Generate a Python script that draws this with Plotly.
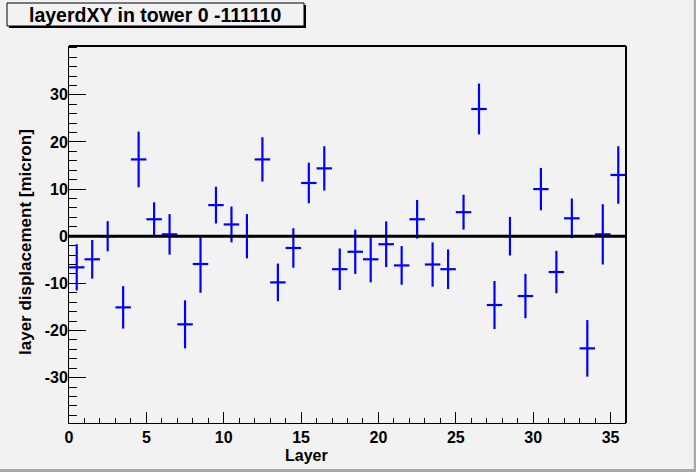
import plotly.graph_objects as go

# ---- data ----
layer = [i + 0.5 for i in range(36)]
displacement = [-6.6, -4.9, 0.0, -15.1, 16.3, 3.6, 0.4, -18.7, -5.9, 6.6,
                2.5, 0.0, 16.3, -9.8, -2.5, 11.3, 14.4, -7.0, -3.3, -4.9,
                -1.7, -6.2, 3.6, -6.0, -7.0, 5.1, 27.0, -14.6, 0.0, -12.7,
                10.0, -7.6, 3.8, -23.8, 0.4, 13.0]
disp_err = [4.9, 4.1, 3.2, 4.5, 5.9, 3.6, 4.3, 5.1, 6.1, 3.9,
            3.8, 4.7, 4.7, 4.0, 4.2, 4.3, 4.7, 4.4, 4.7, 4.9,
            4.85, 4.1, 4.1, 4.7, 4.2, 3.7, 5.4, 5.1, 4.1, 4.7,
            4.5, 4.5, 4.2, 6.0, 6.4, 6.1]
layer_halfwidth = 0.5
x_range = [0, 36]
y_range = [-39.64, 40.37]
y_major = [-30, -20, -10, 0, 10, 20, 30]
y_major_text = ["-30", "-20", "-10", "0", "10", "20", "30"]
y_minor = [-38, -36, -34, -32, -28, -26, -24, -22, -18, -16, -14, -12,
           -8, -6, -4, -2, 2, 4, 6, 8, 12, 14, 16, 18, 22, 24, 26, 28,
           32, 34, 36, 38, 40]
title_text = "layerdXY in tower 0 -111110"
x_title = "Layer"
y_title = "layer displacement [micron]"

W, H = 696, 472
ML, MR, MT, MB = 69, 70, 46, 49
PW, PH = W - ML - MR, H - MT - MB

def px(x):
    return (x - ML) / PW

def py(y):
    return (H - MB - y) / PH

BG = "#f2f2f2"
FONT = "Liberation Sans, Arial, sans-serif"

fig = go.Figure()
fig.add_trace(go.Scatter(
    x=layer, y=displacement, mode="markers",
    marker=dict(size=1, color="#0000ff", opacity=0),
    error_y=dict(type="data", array=disp_err, visible=True,
                 color="#0000ff", thickness=2.2, width=0),
    error_x=dict(type="constant", value=layer_halfwidth, visible=True,
                 color="#0000ff", thickness=2.2, width=0),
    showlegend=False, hoverinfo="x+y",
))

axis_common = dict(
    showgrid=False, zeroline=False, showline=True, linecolor="black",
    linewidth=1, ticks="inside", tickcolor="black", tickwidth=1,
    tickfont=dict(family=FONT, size=16, color="black", weight="bold"),
)

fig.update_xaxes(range=x_range, dtick=5, tick0=0, ticklen=11,
                 minor=dict(dtick=1, tick0=0, ticks="inside", ticklen=5,
                            tickcolor="black", tickwidth=1),
                 **axis_common)
fig.update_yaxes(range=y_range, tickmode="array", tickvals=y_major,
                 ticktext=y_major_text, ticklen=17,
                 minor=dict(tickmode="array", tickvals=y_minor,
                            ticks="inside", ticklen=8,
                            tickcolor="black", tickwidth=1),
                 ticklabelstandoff=-3,
                 **axis_common)

shapes = [
    # zero line
    dict(type="line", xref="x", yref="y", x0=x_range[0], x1=x_range[1],
         y0=0, y1=0, line=dict(color="black", width=3)),
    # frame top and right (thicker)
    dict(type="line", xref="paper", yref="paper", x0=0, x1=1, y0=1, y1=1,
         line=dict(color="black", width=2)),
    dict(type="line", xref="paper", yref="paper", x0=1, x1=1, y0=0, y1=1,
         line=dict(color="black", width=2)),
    # canvas bevel
    dict(type="line", xref="paper", yref="paper", x0=px(695), x1=px(695),
         y0=py(0), y1=py(472), line=dict(color="#a8a8a8", width=2.5)),
    dict(type="line", xref="paper", yref="paper", x0=px(0), x1=px(696),
         y0=py(470.5), y1=py(470.5), line=dict(color="#a8a8a8", width=3)),
    # title box shadow
    dict(type="rect", xref="paper", yref="paper", x0=px(9), x1=px(306),
         y0=py(28), y1=py(5), line=dict(width=0), fillcolor="black"),
    # title box
    dict(type="rect", xref="paper", yref="paper", x0=px(7), x1=px(304),
         y0=py(26), y1=py(3), line=dict(color="black", width=1),
         fillcolor=BG),
]

annotations = [
    dict(text=title_text, xref="paper", yref="paper", x=px(155), y=py(15),
         showarrow=False, xanchor="center", yanchor="middle",
         font=dict(family=FONT, size=19.5, color="black", weight="bold")),
    dict(text=x_title, xref="paper", yref="paper", x=px(306), y=py(455),
         showarrow=False, xanchor="center", yanchor="middle",
         font=dict(family=FONT, size=16, color="black", weight="bold")),
    dict(text=y_title, xref="paper", yref="paper", x=px(25), y=py(242),
         showarrow=False, xanchor="center", yanchor="middle", textangle=-90,
         font=dict(family=FONT, size=17, color="black", weight="bold")),
]

fig.update_layout(
    width=W, height=H, autosize=False,
    margin=dict(l=ML, r=MR, t=MT, b=MB, pad=0),
    paper_bgcolor=BG, plot_bgcolor=BG,
    shapes=shapes, annotations=annotations,
    showlegend=False,
)

fig.write_html(
    "out.html",
    config={"displayModeBar": False},
    post_script="document.body.style.margin='0';document.body.style.padding='0';"
                "document.body.style.background='#f2f2f2';",
)
